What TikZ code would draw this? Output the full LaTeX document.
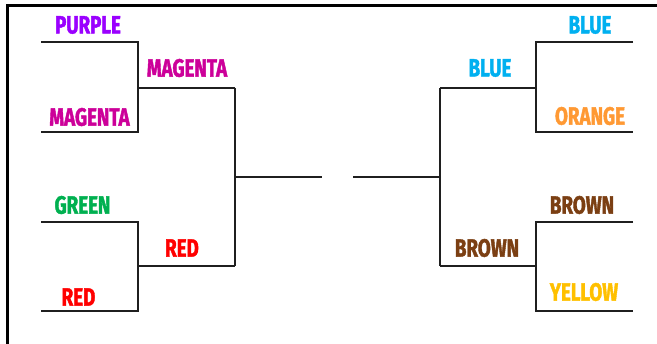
\documentclass[tikz,border=0pt]{standalone}
\usepackage{fontspec}
\setsansfont{Fira Sans}[FakeStretch=0.75, BoldFeatures={FakeBold=1.6}]
\usetikzlibrary{positioning}
\definecolor{tpurple}{HTML}{9A00FF}
\definecolor{tmagenta}{HTML}{CC0099}
\definecolor{tgreen}{HTML}{00B050}
\definecolor{tred}{HTML}{FF0000}
\definecolor{tblue}{HTML}{00B0F0}
\definecolor{torange}{HTML}{FF9933}
\definecolor{tbrown}{HTML}{7B3F13}
\definecolor{tyellow}{HTML}{FFC000}
\tikzset{
  bline/.style={line width=1.6pt, draw=black!88},
  team/.style={font=\sffamily\bfseries\fontsize{25}{25}\selectfont, inner sep=0pt},
}

\begin{document}
\begin{tikzpicture}[x=1pt, y=-1pt]
  \useasboundingbox (0,0) rectangle (657,344);
  % frame
  \draw[line width=3pt] (7.5,344) -- (7.5,5.5) -- (657,5.5);
  % left half
  \foreach \ya/\yb/\ym in {42/132/88, 222/311/266}
    \draw[bline] (41,\ya) -- (138,\ya) -- (138,\yb) -- (41,\yb)
      (138,\ym) -- (235,\ym);
  \draw[bline] (235,88) -- (235,266) (235,177) -- (322,177);
  % right half
  \foreach \ya/\yb/\ym in {42/132/88, 222/311/266}
    \draw[bline] (633,\ya) -- (536,\ya) -- (536,\yb) -- (633,\yb)
      (536,\ym) -- (440,\ym);
  \draw[bline] (440,88) -- (440,266) (440,177) -- (353,177);
  % teams
  \node[team, tpurple] (purple) at (88,25) {PURPLE};
  \node[team, tmagenta] (magenta) at (89.5,117) {MAGENTA};
  \node[team, tgreen] (green) at (82.5,205) {GREEN};
  \node[team, tred] (red) at (78.5,297) {RED};
  \node[team, tmagenta] (magentaW) at (187,68) {MAGENTA};
  \node[team, tred] (redW) at (182,248) {RED};
  \node[team, tblue] (blue) at (590,25) {BLUE};
  \node[team, torange] (orange) at (590,116) {ORANGE};
  \node[team, tbrown] (brown) at (582,205) {BROWN};
  \node[team, tyellow] (yellow) at (584,292) {YELLOW};
  \node[team, tblue] (blueW) at (490,68) {BLUE};
  \node[team, tbrown] (brownW) at (487,248) {BROWN};
\end{tikzpicture}
\end{document}
